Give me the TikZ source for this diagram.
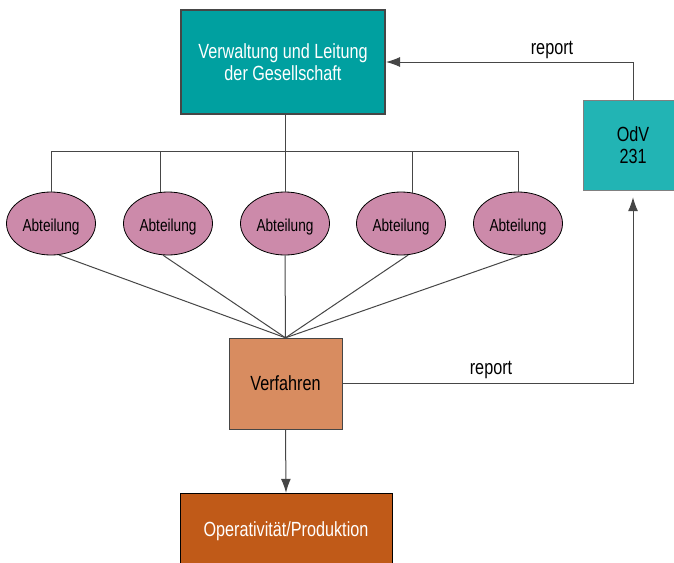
\documentclass[tikz,border=0pt]{standalone}
\usepackage{fontspec}
\setmainfont[FakeStretch=0.79]{Liberation Sans}
\usetikzlibrary{arrows.meta,shapes.geometric}
\definecolor{leitung}{RGB}{0,160,160}
\definecolor{odv}{RGB}{34,180,180}
\definecolor{abtlg}{RGB}{204,138,170}
\definecolor{verf}{RGB}{216,140,96}
\definecolor{prod}{RGB}{192,90,24}
\definecolor{linie}{RGB}{70,70,70}

\begin{document}
\begin{tikzpicture}[x=1pt,y=-1pt,
  ln/.style={draw=linie, line width=1pt},
  arr/.style={ln, -{Latex[length=14pt,width=10pt]}},
  abt/.style={ellipse, draw=black, line width=0.8pt, fill=abtlg,
    minimum width=89pt, minimum height=63pt, inner sep=0pt,
    text height=19pt, text depth=3.6pt,
    font=\fontsize{17.3}{20}\selectfont},
  txt/.style={font=\fontsize{20.5}{22}\selectfont}]
\useasboundingbox (0,0) rectangle (674,562);

% boxes
\node[txt, draw=linie, line width=2pt, fill=leitung, text=white, align=center,
  minimum width=204pt, minimum height=104pt] (leit) at (283,62)
  {Verwaltung und Leitung\\der Gesellschaft};
\node[txt, draw=gray, fill=odv, align=center, minimum width=100pt,
  minimum height=90pt] (odv) at (633,145) {OdV\\231};
\node[txt, draw=linie, fill=verf, minimum width=113pt, minimum height=91pt]
  (verf) at (285.5,383.5) {Verfahren};
\node[txt, draw=black, fill=prod, text=white, minimum width=212pt,
  minimum height=76pt] (prod) at (286,531) {Operativität/Produktion};

% Abteilungen
\node[abt] (a1) at (51,223.5) {Abteilung};
\node[abt] (a2) at (168,223.5) {Abteilung};
\node[abt] (a3) at (285,223.5) {Abteilung};
\node[abt] (a4) at (401,223.5) {Abteilung};
\node[abt] (a5) at (518,223.5) {Abteilung};

% bus
\coordinate (bus) at (285,151);
\draw[ln] (bus |- leit.south) -- (bus);
\draw[ln] (a1.north) |- (bus) -| (a5.north);
\draw[ln] (bus) -| (a2.104);
\draw[ln] (bus) -- (a3.north);
\draw[ln] (bus) -| (a4.70);

% zu Verfahren
\draw[ln] (a1.-76) -- (verf.north);
\draw[ln] (a2.-99) -- (verf.north);
\draw[ln] (a3.south) -- (verf.north);
\draw[ln] (a4.-77) -- (verf.north);
\draw[ln] (a5.-83) -- (verf.north);

% reports
\draw[arr] (verf.east) -| (odv.south) [shorten >=7pt];
\draw[arr] (odv.north) |- (leit.east);
\node[txt] (rep1) at (552,50) {report};
\node[txt] (rep2) at (491,370) {report};

\draw[arr] (verf.south) -- (prod.north);
\end{tikzpicture}
\end{document}
